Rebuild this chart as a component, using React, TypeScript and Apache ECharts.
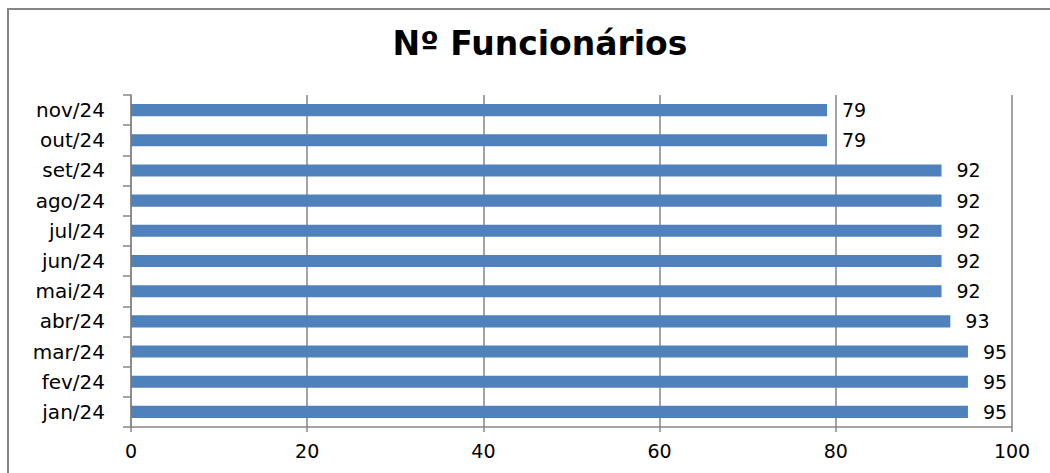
import { useEffect, useRef } from 'react';
import * as echarts from 'echarts';

const categories = ['jan/24', 'fev/24', 'mar/24', 'abr/24', 'mai/24', 'jun/24', 'jul/24', 'ago/24', 'set/24', 'out/24', 'nov/24'];
const funcionarios = [95, 95, 95, 93, 92, 92, 92, 92, 92, 79, 79];
const xTicks = [0, 20, 40, 60, 80, 100];

const FONT = '"DejaVu Sans", sans-serif';
const GRAY = '#868686';

export default function App() {
  const chartRef = useRef<HTMLDivElement>(null);

  useEffect(() => {
    if (!chartRef.current) return;
    const chart = echarts.init(chartRef.current, undefined, { renderer: 'svg' });

    const option: echarts.EChartsOption = {
      animation: false,
      backgroundColor: '#ffffff',
      title: {
        text: 'Nº Funcionários',
        left: 535,
        top: 22,
        textAlign: 'center',
        textStyle: { fontFamily: FONT, fontSize: 33, fontWeight: 'bold', color: '#000' },
      },
      // chart area border (top + left visible)
      graphic: [
        {
          type: 'polyline',
          shape: { points: [[8, 480], [8, 9], [1060, 9]] },
          style: { stroke: GRAY, lineWidth: 2, fill: 'none' },
          silent: true,
        },
      ],
      grid: { left: 131, right: 38, top: 95, bottom: 46, containLabel: false },
      xAxis: {
        type: 'value',
        min: xTicks[0],
        max: xTicks[xTicks.length - 1],
        interval: 20,
        axisLine: { show: true, lineStyle: { color: GRAY, width: 1.5 } },
        axisTick: { show: true, length: 5, lineStyle: { color: GRAY, width: 1.5 } },
        axisLabel: { fontFamily: FONT, fontSize: 19, color: '#000', margin: 14 },
        splitLine: { show: true, lineStyle: { color: GRAY, width: 1.5 } },
      },
      yAxis: {
        type: 'category',
        data: categories,
        axisLine: { show: true, lineStyle: { color: GRAY, width: 1.5 } },
        axisTick: { show: true, length: 8, inside: false, lineStyle: { color: GRAY, width: 1.5 } },
        axisLabel: { fontFamily: FONT, fontSize: 20, color: '#000', margin: 26 },
        splitLine: { show: false },
      },
      series: [
        {
          name: 'Nº Funcionários',
          type: 'bar',
          data: funcionarios,
          barWidth: '40%',
          itemStyle: { color: '#4F81BD' },
          label: {
            show: true,
            position: 'right',
            distance: 15,
            fontFamily: FONT,
            fontSize: 19,
            color: '#000',
          },
        },
      ],
    };

    chart.setOption(option, true);

    const handleResize = () => chart.resize();
    window.addEventListener('resize', handleResize);
    return () => {
      window.removeEventListener('resize', handleResize);
      chart.dispose();
    };
  }, []);

  return (
    <div
      ref={chartRef}
      style={{ position: 'fixed', left: 0, top: 0, width: 1050, height: 473 }}
    />
  );
}
